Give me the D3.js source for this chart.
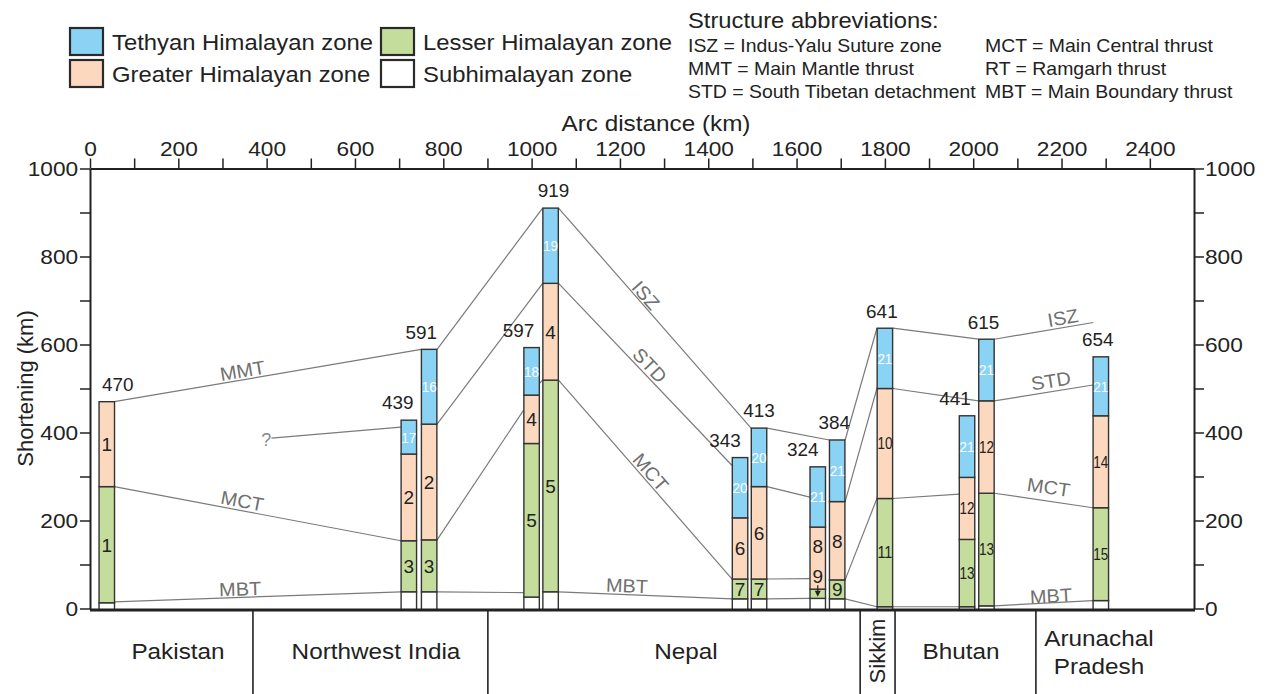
<!DOCTYPE html>
<html>
<head>
<meta charset="utf-8">
<script src="https://cdn.jsdelivr.net/npm/d3@7"></script>
<style>
body { margin: 0; background: #fff; }
svg { display: block; font-family: "Liberation Sans", Arial, sans-serif; }
</style>
</head>
<body>
<svg id="chart" width="1267" height="694"></svg>
<script>
// ---- data ----
// column positions along the arc (km)
var columnKm = [38, 722, 768, 1000, 1043, 1472, 1515, 1648, 1692, 1800, 1986, 2030, 2289];
// top of each zone in every column (km of shortening, cumulative)
var subTop     = [13, 38, 38, 26, 38, 22, 22, 23, 22, 4, 4, 6, 18];
var lesserTop  = [277, 154, 156, 375, 519, 67, 67, 44, 65, 250, 157, 262, 229];
var greaterTop = [470, 351, 419, 485, 739, 206, 277, 185, 243, 500, 298, 472, 438];
var tethyanTop = [470, 428, 589, 593, 910, 343, 410, 322, 383, 637, 438, 612, 572];
// printed totals
var totals = [470, 439, 591, 597, 919, 343, 413, 324, 384, 641, 441, 615, 654];
// section numbers written in each zone
var tethyanNum = ["", "17", "16", "18", "19", "20", "20", "21", "21", "21", "21", "21", "21"];
var greaterNum = ["1", "2", "2", "4", "4", "6", "6", "8", "8", "10", "12", "12", "14"];
var lesserNum  = ["1", "3", "3", "5", "5", "7", "7", "9", "9", "11", "13", "13", "15"];

var regionNames = ["Pakistan", "Northwest India", "Nepal", "Sikkim", "Bhutan", "Arunachal Pradesh"];
var regionBreaksKm = [369, 901, 1744, 1823, 2142];

var xTicks = d3.range(0, 2401, 100);
var yTicks = d3.range(0, 1001, 100);

var zoneNames = ["Tethyan Himalayan zone", "Greater Himalayan zone", "Lesser Himalayan zone", "Subhimalayan zone"];
var zoneColors = ["#8ad3f4", "#fcd9be", "#c5dd9c", "#ffffff"];

var abbrevLeft = ["ISZ = Indus-Yalu Suture zone", "MMT = Main Mantle thrust", "STD = South Tibetan detachment"];
var abbrevRight = ["MCT = Main Central thrust", "RT = Ramgarh thrust", "MBT = Main Boundary thrust"];

// structures traced between columns, [km, shortening]
var mmtLine = [[[55, 470], [750, 589]]];
var queryLine = [[[411, 387], [704, 412]]];
var iszLine = [
  [[786, 589], [1025, 910]], [[1061, 910], [1497, 410]], [[1533, 410], [1674, 383]],
  [[1710, 383], [1782, 637]], [[1818, 637], [2012, 612]], [[2048, 612], [2272, 650]]
];
var stdLine = [
  [[786, 419], [1025, 739]], [[1061, 739], [1454, 325]], [[1533, 277], [1630, 253]],
  [[1710, 243], [1782, 500]], [[1818, 500], [2012, 472]], [[2048, 472], [2271, 508]]
];
var mctLine = [
  [[55, 277], [704, 154]], [[786, 156], [982, 451]], [[1018, 512], [1025, 519]],
  [[1061, 519], [1454, 67]], [[1533, 67], [1630, 68]], [[1710, 65], [1782, 250]],
  [[1818, 250], [1968, 260]], [[2048, 262], [2271, 229]]
];
var mbtLine = [
  [[55, 15], [704, 38]], [[786, 38], [982, 36]], [[1061, 38], [1454, 22]],
  [[1533, 22], [1630, 23]], [[1710, 22], [1782, 4]], [[1818, 4], [1968, 4]],
  [[2048, 6], [2271, 18]]
];

// ---- layout ----
var x = d3.scaleLinear().domain([0, 2500]).range([90, 1194]);
var y = d3.scaleLinear().domain([0, 1000]).range([608.5, 168.5]);
var barKm = 35;
var SX = 1.08; // the original type is a touch wide

var totalDx = [11, -11, -8, -13, 3, -15, 0, -15, -3, -3, -12, -3, -3];
var lineLabels = [
  ["MMT", 345, 541, mmtLine[0]], ["MCT", 345, 245, mctLine[0]], ["MBT", 340, 45, mbtLine[0]],
  ["ISZ", 1259, 712, iszLine[1]], ["STD", 1268, 553, stdLine[1]], ["MCT", 1270, 310, mctLine[3]],
  ["MBT", 1216, 52, mbtLine[2]], ["ISZ", 2203, 661, iszLine[5]], ["STD", 2176, 518, stdLine[5]],
  ["MCT", 2171, 276, mctLine[7]], ["MBT", 2176, 29, mbtLine[6]]
];
var regionLabelX = [178, 376, 686, 877, 961, 1099];

var svg = d3.select('#chart');

function wide(sel, sx) {
  sel.each(function() {
    var e = d3.select(this);
    var tx = +e.attr('x') || 0, ty = +e.attr('y') || 0;
    e.attr('transform', 'translate(' + tx + ',' + ty + ') scale(' + sx + ',1) translate(' + (-tx) + ',' + (-ty) + ')');
  });
}

// structure lines
var allLines = [mmtLine, queryLine, iszLine, stdLine, mctLine, mbtLine];
var lineGen = d3.line().x(d => x(d[0])).y(d => y(d[1]));
allLines.forEach(function(segs) {
  svg.append('g').selectAll('path')
    .data(segs)
    .enter()
    .append('path')
      .attr('d', lineGen)
      .attr('fill', 'none')
      .attr('stroke', '#7a7a7a')
      .attr('stroke-width', 1.2);
});

lineLabels.forEach(function(l) {
  var s = l[3];
  var ang = Math.atan2(y(s[1][1]) - y(s[0][1]), x(s[1][0]) - x(s[0][0])) * 180 / Math.PI;
  svg.append('text')
    .attr('transform', 'translate(' + x(l[1]) + ',' + y(l[2]) + ') rotate(' + ang + ') scale(1.05,1)')
    .attr('text-anchor', 'middle')
    .attr('dy', '0.36em')
    .style('font-size', '19px')
    .style('fill', '#707070')
    .text(l[0]);
});
svg.append('text')
  .attr('x', x(399)).attr('y', y(383)).attr('dy', '0.36em')
  .attr('text-anchor', 'middle')
  .style('font-size', '18px').style('fill', '#888')
  .text('?');

// stacked columns
var cols = columnKm.map(function(km, i) {
  var parts = [
    {lo: 0, hi: subTop[i], fill: zoneColors[3], num: '', tc: '#222'},
    {lo: subTop[i], hi: lesserTop[i], fill: zoneColors[2], num: lesserNum[i], tc: '#222'},
    {lo: lesserTop[i], hi: greaterTop[i], fill: zoneColors[1], num: greaterNum[i], tc: '#222'},
    {lo: greaterTop[i], hi: tethyanTop[i], fill: zoneColors[0], num: tethyanNum[i], tc: '#fff'}
  ].filter(p => p.hi > p.lo);
  // a zone too thin for its number pushes the number up into the zone above
  parts.forEach(function(p, k) {
    p.thin = (y(p.lo) - y(p.hi)) < 14;
    p.km = km;
  });
  parts.forEach(function(p, k) {
    var below = parts[k - 1];
    var bottom = (below && below.thin && below.num !== '') ? y(p.lo) - 24 : y(p.lo);
    p.ly = p.thin ? y(p.hi) - 13 : (bottom + y(p.hi)) / 2;
  });
  return {km: km, parts: parts, i: i};
});

var colG = svg.append('g').selectAll('g')
  .data(cols)
  .enter()
  .append('g');

colG.selectAll('rect')
  .data(d => d.parts)
  .enter()
  .append('rect')
    .attr('x', d => x(d.km - barKm / 2))
    .attr('width', d => x(barKm) - x(0))
    .attr('y', d => y(d.hi))
    .attr('height', d => y(d.lo) - y(d.hi) + (d.lo === 0 ? 1.5 : 0))
    .attr('fill', d => d.fill)
    .attr('stroke', '#333')
    .attr('stroke-width', 1.4);

colG.selectAll('text.num')
  .data(d => d.parts.filter(p => p.num !== ''))
  .enter()
  .append('text')
    .attr('class', 'num')
    .attr('x', d => x(d.km))
    .attr('y', d => d.ly)
    .attr('dy', '0.36em')
    .attr('text-anchor', 'middle')
    .style('font-size', d => d.num.length > 1 ? (d.tc === '#fff' ? '15px' : '16px') : '19px')
    .style('fill', d => d.tc)
    .each(function(d) {
      if (d.num.length > 1) d3.select(this).attr('textLength', 15).attr('lengthAdjust', 'spacingAndGlyphs');
    })
    .text(d => d.num);

// small arrow for a zone too thin to hold its number
cols.forEach(function(c) {
  c.parts.forEach(function(p) {
    if (p.num !== '' && p.thin) {
      var cx = x(c.km), top = y(p.hi) - 4, tip = (y(p.lo) + y(p.hi)) / 2 + 2;
      svg.append('line').attr('x1', cx).attr('x2', cx).attr('y1', top).attr('y2', tip - 3)
        .attr('stroke', '#222').attr('stroke-width', 1.2);
      svg.append('path')
        .attr('d', 'M' + (cx - 3) + ',' + (tip - 5) + 'L' + (cx + 3) + ',' + (tip - 5) + 'L' + cx + ',' + (tip + 1) + 'Z')
        .attr('fill', '#222');
    }
  });
});

// totals above the columns
svg.append('g').selectAll('text')
  .data(totals)
  .enter()
  .append('text')
    .attr('x', (d, i) => x(columnKm[i]) + totalDx[i])
    .attr('y', (d, i) => y(tethyanTop[i]) - 17)
    .attr('dy', '0.36em')
    .attr('text-anchor', 'middle')
    .style('font-size', '17.5px')
    .style('fill', '#222')
    .text(d => d)
    .call(wide, SX);

// axes
var fmt = d => d % 200 === 0 ? d : '';
var topAxis = d3.axisTop(x).tickValues(xTicks).tickFormat(fmt).tickSize(10).tickSizeOuter(0).tickPadding(3);
var leftAxis = d3.axisLeft(y).tickValues(yTicks).tickFormat(fmt).tickSize(10).tickSizeOuter(0).tickPadding(1);
var rightAxis = d3.axisRight(y).tickValues(yTicks).tickFormat(fmt).tickSize(10).tickSizeOuter(0).tickPadding(1);

function styleAxis(g) {
  g.select('.domain').attr('stroke', '#222').attr('stroke-width', 2);
  g.selectAll('.tick line').attr('stroke', '#222').attr('stroke-width', 1.5);
  g.selectAll('.tick text').style('font-size', '21px').style('fill', '#222')
    .style('font-family', '"Liberation Sans", Arial, sans-serif');
  g.selectAll('.tick text').each(function() {
    d3.select(this).attr('transform', 'scale(' + SX + ',1)');
  });
}

svg.append('g').attr('transform', 'translate(0,' + y(1000) + ')').call(topAxis).call(styleAxis);
svg.append('g').attr('transform', 'translate(' + x(0) + ',0)').call(leftAxis).call(styleAxis);
var rightG = svg.append('g').attr('transform', 'translate(' + x(2500) + ',0)').call(rightAxis).call(styleAxis);
// right-axis labels sit to the right of their ticks, keep them anchored there
rightG.selectAll('.tick text').attr('transform', 'translate(11,0) scale(' + SX + ',1) translate(-11,0)');

// base line and region boxes
svg.append('line')
  .attr('x1', x(0)).attr('x2', x(2500) + 1)
  .attr('y1', y(0) + 1.5).attr('y2', y(0) + 1.5)
  .attr('stroke', '#222').attr('stroke-width', 3);

svg.append('g').selectAll('line')
  .data(regionBreaksKm)
  .enter()
  .append('line')
    .attr('x1', d => x(d)).attr('x2', d => x(d))
    .attr('y1', y(0) + 2).attr('y2', 694)
    .attr('stroke', '#222').attr('stroke-width', 1.6);

regionNames.forEach(function(name, i) {
  if (name === 'Sikkim') {
    svg.append('text')
      .attr('transform', 'translate(' + regionLabelX[i] + ',651) rotate(-90)')
      .attr('text-anchor', 'middle').attr('dy', '0.36em')
      .style('font-size', '22px').style('fill', '#222')
      .text(name);
  } else if (name === 'Arunachal Pradesh') {
    var w = name.split(' ');
    svg.append('text').attr('x', regionLabelX[i]).attr('y', 646).attr('text-anchor', 'middle')
      .style('font-size', '22.5px').style('fill', '#222').text(w[0]).call(wide, SX);
    svg.append('text').attr('x', regionLabelX[i]).attr('y', 674).attr('text-anchor', 'middle')
      .style('font-size', '22.5px').style('fill', '#222').text(w[1]).call(wide, SX);
  } else {
    svg.append('text').attr('x', regionLabelX[i]).attr('y', 659).attr('text-anchor', 'middle')
      .style('font-size', '22.5px').style('fill', '#222').text(name).call(wide, SX);
  }
});

// axis titles
svg.append('text')
  .attr('x', 656).attr('y', 131)
  .attr('text-anchor', 'middle')
  .style('font-size', '22.5px').style('fill', '#222')
  .text('Arc distance (km)')
  .call(wide, SX);

svg.append('text')
  .attr('transform', 'translate(25,' + y(500) + ') rotate(-90)')
  .attr('text-anchor', 'middle').attr('dy', '0.36em')
  .style('font-size', '22px').style('fill', '#222')
  .text('Shortening (km)');

// legend
var legend = svg.append('g').selectAll('g')
  .data(zoneNames)
  .enter()
  .append('g')
    .attr('transform', (d, i) => 'translate(' + (i < 2 ? 70 : 381) + ',' + (i % 2 === 0 ? 28 : 60) + ')');

legend.append('rect')
  .attr('width', 33).attr('height', 27)
  .attr('fill', (d, i) => zoneColors[i])
  .attr('stroke', '#2a2a2a').attr('stroke-width', 2.2);

legend.append('text')
  .attr('x', 42).attr('y', 22)
  .style('font-size', '22.5px').style('fill', '#222')
  .text(d => d)
  .call(wide, 1.06);

svg.append('text')
  .attr('x', 688).attr('y', 28)
  .style('font-size', '22px').style('fill', '#222')
  .text('Structure abbreviations:')
  .call(wide, SX);

svg.append('g').selectAll('text')
  .data(abbrevLeft)
  .enter()
  .append('text')
    .attr('x', 688).attr('y', (d, i) => 52 + i * 23)
    .style('font-size', '18px').style('fill', '#222')
    .text(d => d)
    .call(wide, SX);

svg.append('g').selectAll('text')
  .data(abbrevRight)
  .enter()
  .append('text')
    .attr('x', 985).attr('y', (d, i) => 52 + i * 23)
    .style('font-size', '18px').style('fill', '#222')
    .text(d => d)
    .call(wide, SX);
</script>
</body>
</html>
